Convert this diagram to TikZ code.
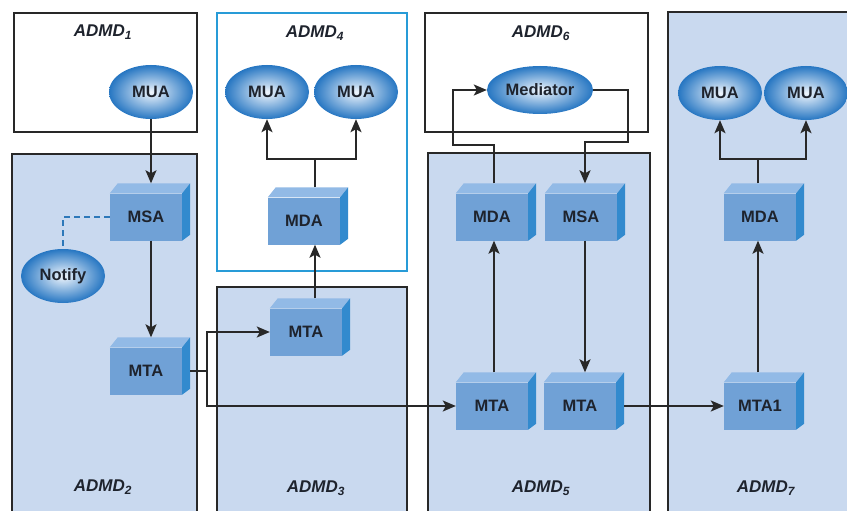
\documentclass[tikz,border=0pt]{standalone}
\usepackage{fontspec}
\setmainfont{Liberation Sans}
\usetikzlibrary{arrows.meta,shapes.geometric}
\definecolor{panel}{RGB}{201,217,239}
\definecolor{cubefront}{RGB}{112,161,214}
\definecolor{cubetop}{RGB}{146,186,230}
\definecolor{cubeside}{RGB}{50,138,206}
\definecolor{ellout}{RGB}{38,118,194}
\definecolor{ellin}{RGB}{240,246,253}
\definecolor{edge}{RGB}{40,40,40}
\definecolor{cyanedge}{RGB}{40,155,215}
\definecolor{txt}{RGB}{30,35,45}
\definecolor{dashc}{RGB}{45,120,185}
\newcommand\cubefaces[1]{%
  \fill[cubetop] (#1.north west) -- ++(8pt,10pt) -- ([shift={(8pt,10pt)}]#1.north east) -- (#1.north east) -- cycle;
  \fill[cubeside] (#1.north east) -- ++(8pt,10pt) -- ([shift={(8pt,6pt)}]#1.south east) -- (#1.south east) -- cycle;}
\begin{document}
\begin{tikzpicture}[x=1pt,y=-1pt,
  panelbox/.style={draw=edge,line width=2pt},
  cubebox/.style={rectangle,fill=cubefront,minimum width=72pt,minimum height=47pt,inner sep=0pt,
    font=\fontsize{16.5}{18}\selectfont\bfseries,text=txt},
  ellbox/.style={ellipse,inner color=ellin,outer color=ellout,minimum width=84pt,minimum height=54pt,inner sep=0pt,
    font=\fontsize{16.5}{18}\selectfont\bfseries,text=txt},
  admd/.style={font=\fontsize{17}{19}\selectfont\bfseries\itshape,text=txt},
  conn/.style={draw=edge,line width=1.9pt},
  arr/.style={conn,-{Stealth[length=13pt,width=11pt,inset=3pt]}},
  dashconn/.style={draw=dashc,line width=2pt,dash pattern=on 6pt off 4pt}]
\clip (0,0) rectangle (847,511);
\fill[white] (0,0) rectangle (847,511);
% panels
\draw[panelbox,fill=white] (14,13) rectangle (197,132);
\draw[panelbox,fill=panel] (12,154) rectangle (197,530);
\draw[line width=2pt,draw=cyanedge,fill=white] (217,13) rectangle (407,271);
\draw[panelbox,fill=panel] (217,287) rectangle (407,530);
\draw[panelbox,fill=white] (425,13) rectangle (648,132);
\draw[panelbox,fill=panel] (428,153) rectangle (650,530);
\draw[panelbox,fill=panel] (668,12) rectangle (860,530);
% labels
\node[admd] (l1) at (103,32) {ADMD\textsubscript{1}};
\node[admd] (l2) at (103,487) {ADMD\textsubscript{2}};
\node[admd] (l4) at (315,33) {ADMD\textsubscript{4}};
\node[admd] (l3) at (316,488) {ADMD\textsubscript{3}};
\node[admd] (l6) at (541,33) {ADMD\textsubscript{6}};
\node[admd] (l5) at (541,488) {ADMD\textsubscript{5}};
\node[admd] (l7) at (766,488) {ADMD\textsubscript{7}};
% ellipses
\node[ellbox] (mua1) at (151,92) {MUA};
\node[ellbox] (notify) at (63,276) {Notify};
\node[ellbox] (mua4a) at (267,92) {MUA};
\node[ellbox] (mua4b) at (356,92) {MUA};
\node[ellbox,minimum width=106pt,minimum height=48pt] (med) at (540,90) {Mediator};
\node[ellbox] (mua7a) at (720,93) {MUA};
\node[ellbox] (mua7b) at (806,93) {MUA};
% cubes
\node[cubebox] (msa2) at (146,217) {MSA};
\node[cubebox] (mta2) at (146,371) {MTA};
\node[cubebox] (mda4) at (304,221) {MDA};
\node[cubebox] (mta3) at (306,332) {MTA};
\node[cubebox] (mda5) at (492,217) {MDA};
\node[cubebox] (msa5) at (581,217) {MSA};
\node[cubebox] (mta5a) at (492,406) {MTA};
\node[cubebox] (mta5b) at (580,406) {MTA};
\node[cubebox] (mta7) at (760,406) {MTA1};
\node[cubebox] (mda7) at (760,217) {MDA};
\cubefaces{msa2}\cubefaces{mta2}\cubefaces{mda4}\cubefaces{mta3}\cubefaces{mda5}
\cubefaces{msa5}\cubefaces{mta5a}\cubefaces{mta5b}\cubefaces{mta7}\cubefaces{mda7}
% connectors
\coordinate (j4) at (315,159);
\coordinate (j7) at (758,159);
\coordinate (split) at (207,371);
\coordinate (x5a) at (494,0);
\coordinate (x5b) at (585,0);
\coordinate (med1) at (453,145);
\coordinate (med2) at (628,142);
\draw[arr] (mua1.south) -- ([yshift=10pt]msa2.north -| mua1.south);
\draw[arr] (msa2.south -| mua1.south) -- ([yshift=10pt]mta2.north -| mua1.south);
\draw[dashconn] (msa2.west) -- (msa2.west -| notify.north) -- (notify.north);
\draw[conn] ([xshift=8pt]mta2.east) -- (split);
\draw[arr] (split) |- (mta3.west);
\draw[arr] (split) |- (mta5a.west);
\draw[arr] ([yshift=10pt]mta3.north -| j4) -- (mda4.south -| j4);
\draw[conn] ([yshift=10pt]mda4.north -| j4) -- (j4);
\draw[arr] (j4) -| (mua4a.south);
\draw[arr] (j4) -| (mua4b.south);
\draw[arr] ([yshift=10pt]mta5a.north -| x5a) -- (mda5.south -| x5a);
\draw[arr] ([yshift=10pt]mda5.north -| x5a) |- (med1) |- (med.west);
\draw[arr] (med.east) -| (med2) -| ([yshift=10pt]msa5.north -| x5b);
\draw[arr] (msa5.south -| x5b) -- ([yshift=10pt]mta5b.north -| x5b);
\draw[arr] ([xshift=8pt]mta5b.east) -- (mta7.west);
\draw[arr] ([yshift=10pt]mta7.north -| j7) -- (mda7.south -| j7);
\draw[conn] ([yshift=10pt]mda7.north -| j7) -- (j7);
\draw[arr] (j7) -| (mua7a.south);
\draw[arr] (j7) -| (mua7b.south);
\end{tikzpicture}
\end{document}
